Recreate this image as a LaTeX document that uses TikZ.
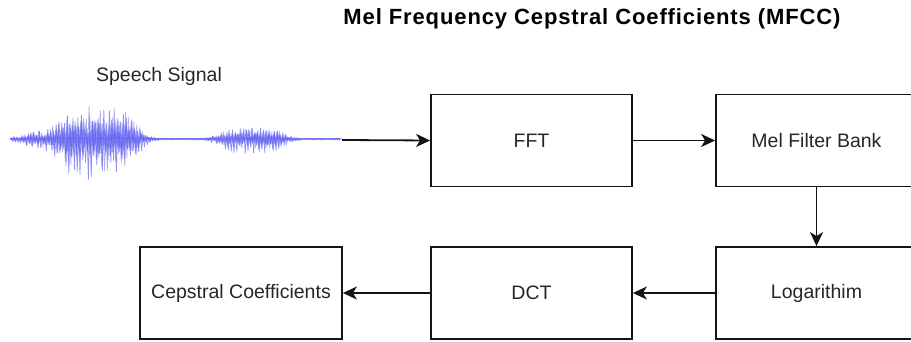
\documentclass[tikz,border=0pt]{standalone}
\usepackage{fontspec}
\setmainfont{Liberation Sans}
\newfontfamily\titlefont[LetterSpace=4]{Liberation Sans Bold}
\usetikzlibrary{arrows.meta}
\definecolor{wavecol}{RGB}{96,96,240}
\definecolor{edge}{RGB}{20,20,20}
\tikzset{
  blockbox/.style={draw=edge, line width=1.8pt, minimum width=201pt, minimum height=92pt, inner sep=0pt, font=\fontsize{19.5}{23}\selectfont, text=black!85},
  conn/.style={draw=edge, line width=1.8pt, -{Stealth[length=14pt,width=13pt,inset=4pt]}},
  wave/.style={draw=wavecol, line width=0.75pt, opacity=0.7, line join=round},
  declare function={
    gs(\u)=exp(max(-15,-(\u)));
    sg(\t)=1-2*mod(round(\t),2);
    env(\x)=0.9+7*gs(min(20,((\x-36)/18)^2))+32*gs(min(20,((\x-97)/42)^2)^2)+11*gs(min(20,((\x-252)/36)^2)^2);}
}
\begin{document}
\begin{tikzpicture}[x=1pt,y=-1pt]
\useasboundingbox (0,0) rectangle (911,342);
\clip (0,0) rectangle (911,342);
\node[anchor=base, font=\fontsize{22}{26}\selectfont\titlefont] (title) at (592,25) {Mel Frequency Cepstral Coefficients (MFCC)};
\node[anchor=base, font=\fontsize{19.5}{23}\selectfont, text=black!85] (speech) at (159,82) {Speech Signal};
% waveform
\pgfmathsetseed{7}
\draw[wave] plot[domain=0:236, samples=237, variable=\t] ({10+1.4*\t}, {139 + sg(\t)*(0.3+0.7*rnd)*env(10+1.4*\t)*(1.1+0.15*sg(\t))});
\pgfmathsetseed{23}
\draw[wave, opacity=0.5] plot[domain=0:236, samples=237, variable=\t] ({10.7+1.4*\t}, {139 - sg(\t)*(0.2+0.8*rnd)*env(10.7+1.4*\t)});
\pgfmathsetseed{41}
\draw[wave, opacity=0.5] plot[domain=0:330, samples=331, variable=\t] ({10+\t}, {139 + sg(\t)*(0.1+0.5*rnd)*env(10+\t)});
\pgfmathsetseed{59}
\draw[wave, opacity=0.45] plot[domain=0:470, samples=471, variable=\t] ({10+0.7*\t}, {139 - sg(\t)*(0.1+0.45*rnd)*env(10+0.7*\t)});
\draw[wave, opacity=0.5, line width=1pt] (10,139) -- (342,139);
\coordinate (wend) at (342,140);
% blocks
\node[blockbox] (fft) at (531.5,140.5) {FFT};
\node[blockbox] (mel) at (816.5,140.5) {Mel Filter Bank};
\node[blockbox] (log) at (816.5,293) {Logarithim};
\node[blockbox] (dct) at (531.5,293) {DCT};
\node[blockbox, minimum width=202pt] (cep) at (241,293) {Cepstral Coefficients};
% connectors
\draw[conn] (wend) -- (fft.west);
\draw[conn] (fft.east) -- (mel.west);
\draw[conn] (mel.south) -- (log.north);
\draw[conn] (log.west) -- (dct.east);
\draw[conn] (dct.west) -- (cep.east);
\end{tikzpicture}
\end{document}
